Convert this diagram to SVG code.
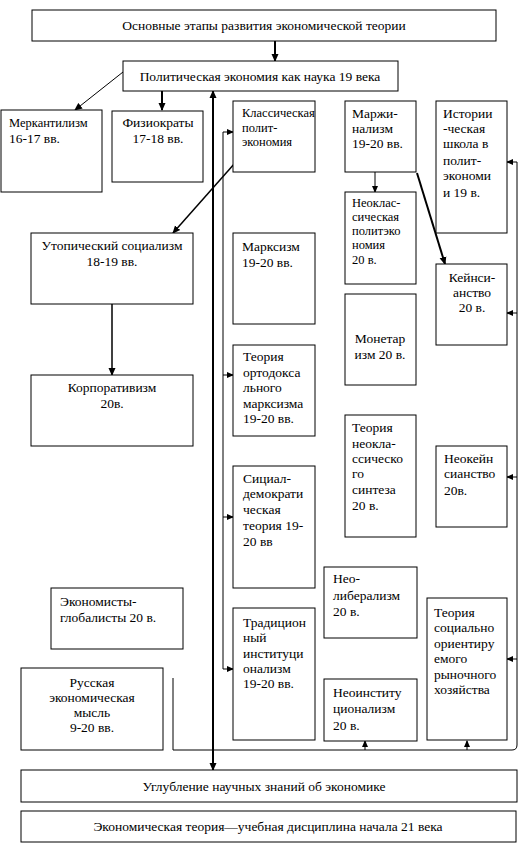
<svg xmlns="http://www.w3.org/2000/svg" width="520" height="844" viewBox="0 0 520 844">
<defs>
<marker id="ah" markerUnits="userSpaceOnUse" markerWidth="8" markerHeight="8" refX="7" refY="4" orient="auto-start-reverse" viewBox="0 0 8 8">
<path d="M0,0.5 L8,4 L0,7.5 z" fill="#000"/>
</marker>
<marker id="as" markerUnits="userSpaceOnUse" markerWidth="7" markerHeight="7" refX="6" refY="3.5" orient="auto-start-reverse" viewBox="0 0 7 7">
<path d="M0,0.5 L7,3.5 L0,6.5 z" fill="#000"/>
</marker>
</defs>
<style>
rect{fill:#fff;stroke:#000;stroke-width:1}
text{font-size:13.5px;fill:#000}
.c{text-anchor:middle}
.s{font-size:12.5px}
.ln{fill:none;stroke:#000;stroke-width:1}
.th{fill:none;stroke:#000;stroke-width:2}
</style>
<rect x="0" y="0" width="520" height="844" style="fill:#fff;stroke:none"/>

<g id="connectors">
<line class="th" x1="275" y1="41" x2="275" y2="61" marker-end="url(#ah)"/>
<line class="ln" x1="123" y1="72" x2="75" y2="110" marker-end="url(#ah)"/>
<line class="th" x1="162" y1="91" x2="162" y2="110" marker-end="url(#ah)"/>
<line class="th" x1="213" y1="91" x2="213" y2="770" marker-start="url(#ah)" marker-end="url(#ah)"/>
<line class="ln" style="stroke-width:1.5" x1="235" y1="163" x2="173" y2="233" marker-end="url(#ah)"/>
<line class="ln" style="stroke-width:1.5" x1="112" y1="304" x2="112" y2="375" marker-end="url(#ah)"/>
<path class="ln" d="M223,669 V132"/>
<path class="ln" d="M223,132 H233" marker-end="url(#as)"/>
<path class="ln" d="M223,375 H233" marker-end="url(#as)"/>
<path class="ln" d="M223,517 H233" marker-end="url(#as)"/>
<path class="ln" d="M223,669 H233" marker-end="url(#as)"/>
<line class="ln" x1="375" y1="172" x2="375" y2="192" marker-end="url(#as)"/>
<line class="th" x1="417" y1="173" x2="445" y2="264" marker-end="url(#ah)"/>
<path class="ln" d="M517,162 V745 Q517,750 512,750 H173 V678"/>
<path class="ln" d="M517,162 H507" marker-end="url(#as)"/>
<path class="ln" d="M517,313 H507" marker-end="url(#as)"/>
<path class="ln" d="M517,477 H507" marker-end="url(#as)"/>
<path class="ln" d="M517,659 H507" marker-end="url(#as)"/>
<path class="ln" d="M365,750 V741" marker-end="url(#as)"/>
<path class="ln" d="M467,750 V741" marker-end="url(#as)"/>
</g>

<g font-family="'Liberation Serif', 'Times New Roman', 'DejaVu Serif', serif">
<g id="n-main">
<rect x="32" y="10" width="464" height="31"/>
<text class="c" x="264" y="30">Основные этапы развития экономической теории</text>
</g>
<g id="n-polit">
<rect x="123" y="61" width="275" height="30"/>
<text class="c" x="260" y="81">Политическая экономия как наука 19 века</text>
</g>
<g id="n-merc">
<rect x="1" y="110" width="101" height="82"/>
<text class="s" x="9" y="127">Меркантилизм</text>
<text x="9" y="143">16-17 вв.</text>
</g>
<g id="n-phys">
<rect x="112" y="111" width="91" height="71"/>
<text class="c" x="158" y="127">Физиократы</text>
<text class="c" x="158" y="143">17-18 вв.</text>
</g>
<g id="n-utop">
<rect x="31" y="233" width="162" height="71"/>
<text class="c" x="112" y="250">Утопический социализм</text>
<text class="c" x="112" y="266">18-19 вв.</text>
</g>
<g id="n-corp">
<rect x="31" y="375" width="162" height="71"/>
<text class="c" x="112" y="392">Корпоративизм</text>
<text class="c" x="112" y="408">20в.</text>
</g>
<g id="n-glob">
<rect x="51" y="588" width="132" height="61"/>
<text x="60" y="606">Экономисты-</text>
<text x="60" y="622">глобалисты 20 в.</text>
</g>
<g id="n-rus">
<rect x="21" y="668" width="142" height="82"/>
<text class="c" x="92" y="687">Русская</text>
<text class="c" x="92" y="702">экономическая</text>
<text class="c" x="92" y="717">мысль</text>
<text class="c" x="92" y="732">9-20 вв.</text>
</g>
<g id="n-class">
<rect x="233" y="101" width="82" height="71"/>
<text class="s" x="242" y="117">Классическая</text>
<text class="s" x="242" y="132">полит-</text>
<text class="s" x="242" y="146">экономия</text>
</g>
<g id="n-marx">
<rect x="233" y="233" width="82" height="91"/>
<text x="242" y="251">Марксизм</text>
<text x="242" y="267">19-20 вв.</text>
</g>
<g id="n-orth">
<rect x="233" y="345" width="82" height="91"/>
<text x="243" y="361">Теория</text>
<text x="243" y="377">ортодокса</text>
<text x="243" y="392">льного</text>
<text x="243" y="408">марксизма</text>
<text x="243" y="423">19-20 вв.</text>
</g>
<g id="n-soc">
<rect x="233" y="466" width="82" height="122"/>
<text x="243" y="483">Сициал-</text>
<text x="243" y="498">демократи</text>
<text x="243" y="514">ческая</text>
<text x="243" y="530">теория 19-</text>
<text x="243" y="546">20 вв</text>
</g>
<g id="n-trad">
<rect x="233" y="608" width="82" height="132"/>
<text x="243" y="627">Традицион</text>
<text x="243" y="642">ный</text>
<text x="243" y="658">институци</text>
<text x="243" y="673">онализм</text>
<text x="243" y="688">19-20 вв.</text>
</g>
<g id="n-marg">
<rect x="345" y="101" width="71" height="71"/>
<text x="352" y="118">Маржи-</text>
<text x="352" y="133">нализм</text>
<text x="352" y="148">19-20 вв.</text>
</g>
<g id="n-neocl">
<rect x="345" y="192" width="71" height="92"/>
<text class="s" x="352" y="207">Неоклас-</text>
<text class="s" x="352" y="221">сическая</text>
<text class="s" x="352" y="235">политэко</text>
<text class="s" x="352" y="249">номия</text>
<text class="s" x="352" y="264">20 в.</text>
</g>
<g id="n-monet">
<rect x="345" y="294" width="71" height="91"/>
<text class="c" x="380" y="343">Монетар</text>
<text class="c" x="380" y="359">изм 20 в.</text>
</g>
<g id="n-synth">
<rect x="345" y="415" width="71" height="122"/>
<text x="352" y="432">Теория</text>
<text x="352" y="448">неокла-</text>
<text x="352" y="463">ссическо</text>
<text x="352" y="478">го</text>
<text x="352" y="494">синтеза</text>
<text x="352" y="510">20 в.</text>
</g>
<g id="n-neolib">
<rect x="324" y="567" width="93" height="71"/>
<text x="333" y="583">Нео-</text>
<text x="333" y="600">либерализм</text>
<text x="333" y="616">20 в.</text>
</g>
<g id="n-neoinst">
<rect x="324" y="679" width="93" height="62"/>
<text x="333" y="697">Неоинститу</text>
<text x="333" y="713">ционализм</text>
<text x="333" y="730">20 в.</text>
</g>
<g id="n-hist">
<rect x="436" y="101" width="71" height="132"/>
<text x="443" y="118">Истории</text>
<text x="443" y="133">-ческая</text>
<text x="443" y="148">школа в</text>
<text x="443" y="165">полит-</text>
<text x="443" y="180">экономи</text>
<text x="443" y="197">и 19 в.</text>
</g>
<g id="n-keyn">
<rect x="436" y="264" width="71" height="81"/>
<text class="c" x="472" y="282">Кейнси-</text>
<text class="c" x="472" y="297">анство</text>
<text class="c" x="472" y="312">20 в.</text>
</g>
<g id="n-neokeyn">
<rect x="436" y="446" width="71" height="81"/>
<text x="444" y="463">Неокейн</text>
<text x="444" y="478">сианство</text>
<text x="444" y="495">20в.</text>
</g>
<g id="n-somr">
<rect x="427" y="598" width="80" height="142"/>
<text x="434" y="617">Теория</text>
<text x="434" y="632">социально</text>
<text x="434" y="648">ориентиру</text>
<text x="434" y="663">емого</text>
<text x="434" y="679">рыночного</text>
<text x="434" y="694">хозяйства</text>
</g>
<g id="n-deep">
<rect x="21" y="770" width="496" height="32"/>
<text class="c" x="264" y="791">Углубление научных знаний об экономике</text>
</g>
<g id="n-econ">
<rect x="21" y="811" width="495" height="31"/>
<text class="c" x="268" y="831">Экономическая теория—учебная дисциплина начала 21 века</text>
</g>
</g>
</svg>
